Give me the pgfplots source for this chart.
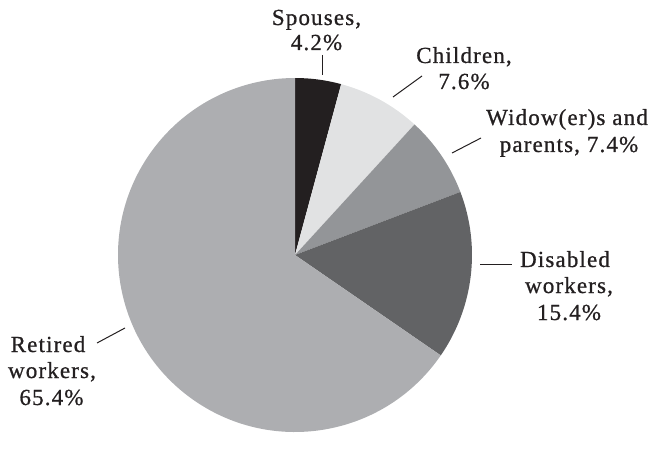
\documentclass[border=0pt]{standalone}
\usepackage{pgfplots}
\usepackage{pgfplotstable}
\pgfplotsset{compat=1.18}
\usepackage{fontspec}
\setmainfont{Liberation Serif}[LetterSpace=5,FakeBold=0.8]
\definecolor{cSp}{HTML}{231F20}
\definecolor{cCh}{HTML}{E1E2E3}
\definecolor{cWi}{HTML}{939598}
\definecolor{cDi}{HTML}{626365}
\definecolor{cRe}{HTML}{ADAEB1}
\pgfplotstableread{
name value col
Spouses 4.2 cSp
Children 7.6 cCh
Widows 7.4 cWi
Disabled 15.4 cDi
Retired 65.4 cRe
}\piedata
\begin{document}
\begin{tikzpicture}
\begin{axis}[width=656bp,height=434bp,scale only axis,
  xmin=0,xmax=656,ymin=0,ymax=434,hide axis,clip=false]
\pgfplotsextra{
  \path (axis cs:0,0) rectangle (axis cs:656,434);
  \gdef\curang{90}
  \foreach \i in {0,...,4}{
    \pgfplotstablegetelem{\i}{value}\of\piedata
    \pgfmathsetmacro{\endang}{\curang-3.6*\pgfplotsretval}
    \pgfplotstablegetelem{\i}{col}\of\piedata
    \let\c\pgfplotsretval
    \fill[fill=\c] (axis cs:295,179) -- ++(\curang:177bp)
      arc[start angle=\curang, end angle=\endang, radius=177bp] -- cycle;
    \xdef\curang{\endang}
  }
}
\pgfplotsextra{
  \tikzset{lbl/.style={anchor=base,inner sep=0pt,text=cSp,
    font=\fontsize{23bp}{26bp}\selectfont}}
  % y values are 434 - baseline pixel
  \node[lbl] at (axis cs:316.5,409) {Spouses,};
  \node[lbl] at (axis cs:316.5,384) {4.2\%};
  \node[lbl] at (axis cs:464,371) {Children,};
  \node[lbl] at (axis cs:464,345) {7.6\%};
  \node[lbl] at (axis cs:567,309) {Widow(er)s and};
  \node[lbl] at (axis cs:569,282) {parents, 7.4\%};
  \node[lbl] at (axis cs:565,167) {Disabled};
  \node[lbl] at (axis cs:569,141) {workers,};
  \node[lbl] at (axis cs:569,114) {15.4\%};
  \node[lbl] at (axis cs:48,82) {Retired};
  \node[lbl] at (axis cs:52,56) {workers,};
  \node[lbl] at (axis cs:51.5,29) {65.4\%};
  \draw[cSp,line width=1pt] (axis cs:322,379) -- (axis cs:322,359);
  \draw[cSp,line width=1pt] (axis cs:393,337) -- (axis cs:422,358);
  \draw[cSp,line width=1pt] (axis cs:452,281) -- (axis cs:481,296);
  \draw[cSp,line width=1pt] (axis cs:480,170) -- (axis cs:512,170);
  \draw[cSp,line width=1pt] (axis cs:97,91) -- (axis cs:125,106);
}
\end{axis}
\end{tikzpicture}
\end{document}
